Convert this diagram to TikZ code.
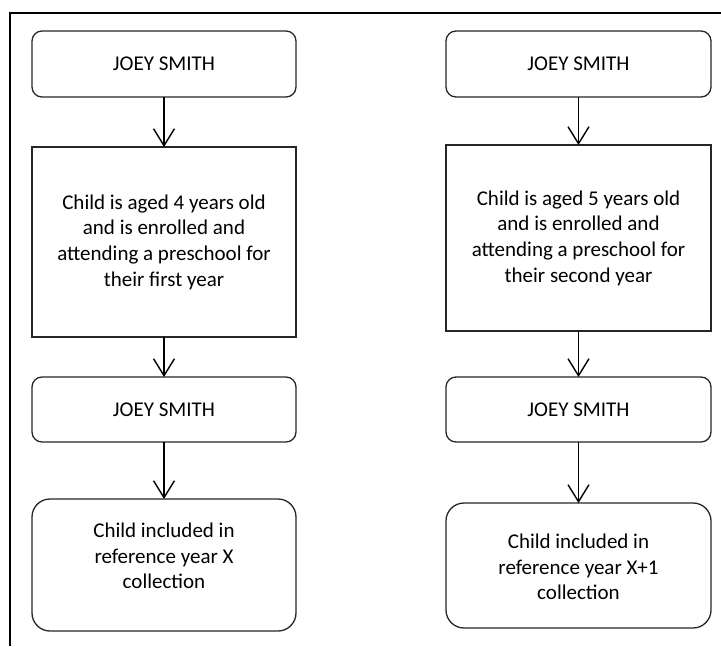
\documentclass[tikz,border=0pt]{standalone}
\usepackage{fontspec}
\setmainfont{Carlito}
\usetikzlibrary{arrows.meta}
\begin{document}
\begin{tikzpicture}[x=1pt,y=-1pt,
  box/.style={draw=black!85,line width=1.3pt,inner sep=0pt,outer sep=0pt},
  softbox/.style={box,rounded corners=10pt},
  roundbox/.style={box,rounded corners=18pt},
  txt/.style={align=center,inner sep=0pt,font=\fontsize{21}{25.6}\selectfont},
  arr/.style={line width=1.4pt,-{Straight Barb[length=17pt,width=21pt,line width=1.4pt]}}]
\useasboundingbox (0,0) rectangle (721,646);
% outer frame (top and left edges)
\draw[line width=1.8pt] (10,646) -- (10,13) -- (721,13);

% left column
\node[softbox,minimum width=264pt,minimum height=66pt] (L1) at (164,64) {};
\node[box,minimum width=264pt,minimum height=190pt] (L2) at (164,242) {};
\node[softbox,minimum width=264pt,minimum height=65pt] (L3) at (164,409.5) {};
\node[roundbox,minimum width=264pt,minimum height=132pt] (L4) at (164,565) {};
\node[txt] (tL1) at (L1.center) {JOEY SMITH};
\node[txt] (tL2) at (L2.center) {Child is aged 4 years old\\and is enrolled and\\attending a preschool for\\their first year};
\node[txt] (tL3) at (L3.center) {JOEY SMITH};
\node[txt] (tL4) at (164,556) {Child included in\\reference year X\\collection};
\draw[arr] (L1.south) -- (L2.north);
\draw[arr] (L2.south) -- (L3.north);
\draw[arr] (L3.south) -- (L4.north);

% right column
\node[softbox,minimum width=265pt,minimum height=66pt] (R1) at (578.5,64) {};
\node[box,minimum width=265pt,minimum height=186pt] (R2) at (578.5,238) {};
\node[softbox,minimum width=265pt,minimum height=65pt] (R3) at (578.5,409.5) {};
\node[roundbox,minimum width=265pt,minimum height=125pt] (R4) at (578.5,565.5) {};
\node[txt] (tR1) at (R1.center) {JOEY SMITH};
\node[txt] (tR2) at (R2.center) {Child is aged 5 years old\\and is enrolled and\\attending a preschool for\\their second year};
\node[txt] (tR3) at (R3.center) {JOEY SMITH};
\node[txt] (tR4) at (578.5,567) {Child included in\\reference year X+1\\collection};
\draw[arr] (R1.south) -- (R2.north);
\draw[arr] (R2.south) -- (R3.north);
\draw[arr] (R3.south) -- (R4.north);
\end{tikzpicture}
\end{document}
